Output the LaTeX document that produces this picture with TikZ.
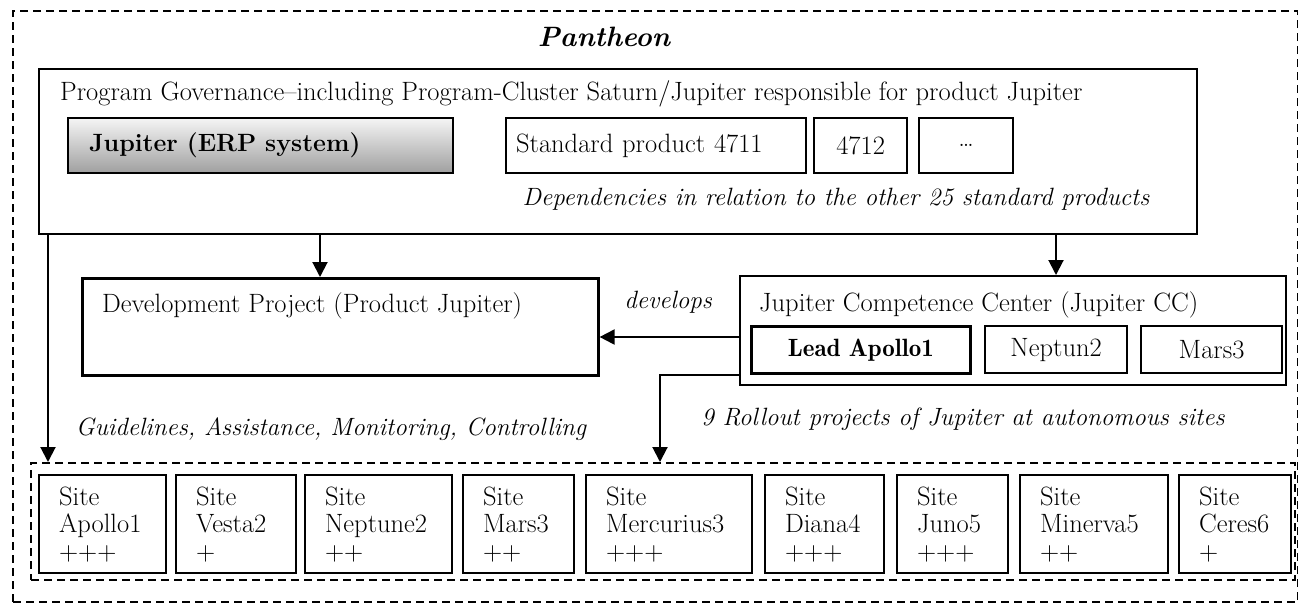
\documentclass[tikz,border=0pt]{standalone}
\usepackage{tikz}
\usetikzlibrary{arrows.meta}

\newcommand\fs{\fontsize{25}{27}\selectfont}
\newcommand\fm{\fontsize{26.5}{27.5}\selectfont}

\begin{document}
\begin{tikzpicture}[x=1pt,y=-1pt,
  every node/.style={font=\fm},
  box/.style={draw, line width=2.2pt, anchor=north west, inner sep=0pt},
  dbox/.style={draw, line width=2.2pt, dash pattern=on 8pt off 5pt, anchor=north west, inner sep=0pt},
  lbl/.style={anchor=base west, inner sep=0pt},
  note/.style={font=\fs\itshape, inner sep=0pt},
  arr/.style={line width=2pt, -{Triangle[width=15pt,length=15pt]}},
  site/.style={box, minimum height=98pt, inner xsep=20pt, align=left}]

\useasboundingbox (0,0) rectangle (1298,603);

% outer frame
\node[dbox, minimum width=1285pt, minimum height=591pt] (pantheon) at (12,10) {};
\node[font=\fontsize{28}{30}\selectfont\bfseries\itshape] (title) at (604,37) {Pantheon};

% program governance
\node[box, minimum width=1158pt, minimum height=165pt] (gov) at (38,68) {};
\node[lbl] (tgov) at (60,100) {Program Governance--including Program-Cluster Saturn/Jupiter responsible for product Jupiter};

\node[box, minimum height=55pt, text width=343pt, inner xsep=21pt, align=left,
      top color=gray!8, bottom color=gray!75] (jup) at (67,117) {\fs\bfseries Jupiter (ERP system)};
\node[box, minimum height=55pt, text width=280pt, inner xsep=10pt, align=left] (std) at (505,117) {Standard product 4711};
\node[box, minimum width=93pt, minimum height=55pt] (p4712) at (813,117) {4712};
\node[box, minimum width=94pt, minimum height=55pt] (pdots) at (918,117) {\dots};
\node[note, anchor=base] (dep) at (836,205) {Dependencies in relation to the other 25 standard products};

% development and competence center
\node[box, line width=2.6pt, minimum width=516pt, minimum height=97pt] (dev) at (81,277) {};
\node[lbl] (tdev) at (102,312) {Development Project (Product Jupiter)};

\node[box, minimum width=546pt, minimum height=109pt] (jcc) at (739,275) {};
\node[lbl] (tjcc) at (759,311) {Jupiter Competence Center (Jupiter CC)};
\node[box, line width=2.6pt, minimum width=219pt, minimum height=47pt] (lead) at (750,325) {\fs\fontseries{b}\selectfont Lead Apollo1};
\node[box, minimum width=142pt, minimum height=47pt] (nep) at (984,325) {Neptun2};
\node[box, minimum width=141pt, minimum height=47pt] (mars) at (1140,325) {Mars3};

\node[note] (dvl) at (668,302) {develops};
\node[note, anchor=base] (guide) at (331,435) {Guidelines, Assistance, Monitoring, Controlling};
\node[note, anchor=base] (roll) at (963,425) {9 Rollout projects of Jupiter at autonomous sites};

% sites
\node[dbox, minimum width=1264pt, minimum height=117pt] (sites) at (30,462) {};
\foreach \i/\xa/\xb/\nm/\pl in {1/38/165/Apollo1/+++, 2/175/295/Vesta2/+,
    3/304/451/Neptune2/++, 4/462/573/Mars3/++, 5/585/751/Mercurius3/+++,
    6/764/883/Diana4/+++, 7/896/1007/Juno5/+++, 8/1019/1167/Minerva5/++,
    9/1178/1290/Ceres6/+}
{
    \pgfmathsetmacro\tw{\xb-\xa-40}
    \node[site, text width=\tw pt] (s\i) at (\xa,474) {Site\\\nm\\\pl};
}

% connectors
\coordinate (c1) at (320,0);
\coordinate (c2) at (1056,0);
\coordinate (c3) at (0,337);
\coordinate (c4) at (660,0);
\coordinate (c5) at (48,0);

\draw[arr] (gov.south -| c1) -- (dev.north -| c1);
\draw[arr] (gov.south -| c2) -- (jcc.north -| c2);
\draw[arr] (jcc.west |- c3) -- (dev.east |- c3);
\draw[arr] (jcc.west |- lead.south) -| (sites.north -| c4);
\draw[arr] (gov.south -| c5) -- (sites.north -| c5);

\end{tikzpicture}
\end{document}
